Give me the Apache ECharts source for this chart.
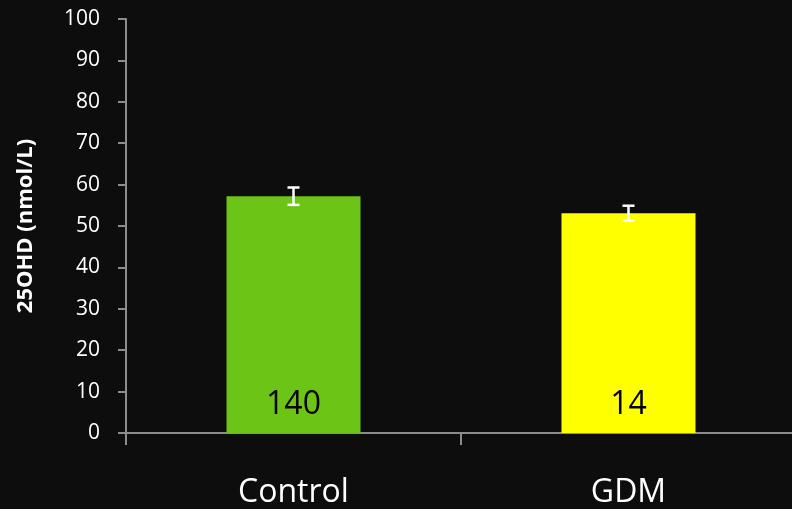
<!DOCTYPE html>
<html>
<head>
<meta charset="utf-8">
<script src="https://cdn.jsdelivr.net/npm/echarts@6/dist/echarts.min.js"></script>
<style>
	html,body{margin:0;padding:0;background:#0d0d0d;}
	#chart{width:792px;height:509px;}
</style>
</head>
<body>
<div id="chart"></div>
<script>
var categories = ['Control', 'GDM'];
var means = [57.2, 53.1];
var errors = [2.1, 1.8];
var counts = ['140', '14'];
var barColors = ['#6cc417', '#ffff00'];

var myChart = echarts.init(document.getElementById('chart'));

var errData = categories.map(function (c, i) {
	return [i, means[i] - errors[i], means[i] + errors[i]];
});

var option = {
	backgroundColor: '#0d0d0d',
	animation: false,
	grid: {
		left: 126,
		right: -4,
		top: 19,
		bottom: 76,
		outerBoundsMode: 'none'
	},
	xAxis: {
		type: 'category',
		data: categories,
		axisLine: {lineStyle: {color: '#8c8c8c', width: 2}},
		axisTick: {show: true, length: 12, lineStyle: {color: '#8c8c8c', width: 2}},
		axisLabel: {
			color: '#ffffff',
			fontSize: 32,
			fontFamily: 'Open Sans',
			margin: 44
		}
	},
	yAxis: {
		type: 'value',
		min: 0,
		max: 100,
		interval: 10,
		name: '25OHD (nmol/L)',
		nameLocation: 'middle',
		nameGap: 89,
		nameTextStyle: {
			color: '#ffffff',
			fontSize: 22,
			fontWeight: 'bold',
			fontFamily: 'Open Sans'
		},
		splitLine: {show: false},
		axisLine: {show: true, lineStyle: {color: '#8c8c8c', width: 2}},
		axisTick: {show: true, length: 8, lineStyle: {color: '#8c8c8c', width: 2}},
		axisLabel: {
			color: '#ffffff',
			fontSize: 21,
			fontFamily: 'Open Sans',
			margin: 26
		}
	},
	series: [
		{
			type: 'bar',
			barWidth: '40%',
			data: means.map(function (v, i) {
				return {value: v, itemStyle: {color: barColors[i]}};
			}),
			label: {
				show: true,
				position: 'insideBottom',
				distance: 12,
				color: '#000000',
				fontSize: 32,
				fontFamily: 'Open Sans',
				formatter: function (p) {
					return counts[p.dataIndex];
				}
			}
		},
		{
			type: 'custom',
			data: errData,
			z: 10,
			renderItem: function (params, api) {
				var x = api.value(0);
				var lo = api.coord([x, api.value(1)]);
				var hi = api.coord([x, api.value(2)]);
				var hw = 6;
				var style = {stroke: '#ffffff', lineWidth: 2.5};
				return {
					type: 'group',
					children: [
						{type: 'line', shape: {x1: lo[0], y1: lo[1], x2: hi[0], y2: hi[1]}, style: style},
						{type: 'line', shape: {x1: lo[0] - hw, y1: lo[1], x2: lo[0] + hw, y2: lo[1]}, style: style},
						{type: 'line', shape: {x1: hi[0] - hw, y1: hi[1], x2: hi[0] + hw, y2: hi[1]}, style: style}
					]
				};
			}
		}
	]
};
myChart.setOption(option);
</script>
</body>
</html>
